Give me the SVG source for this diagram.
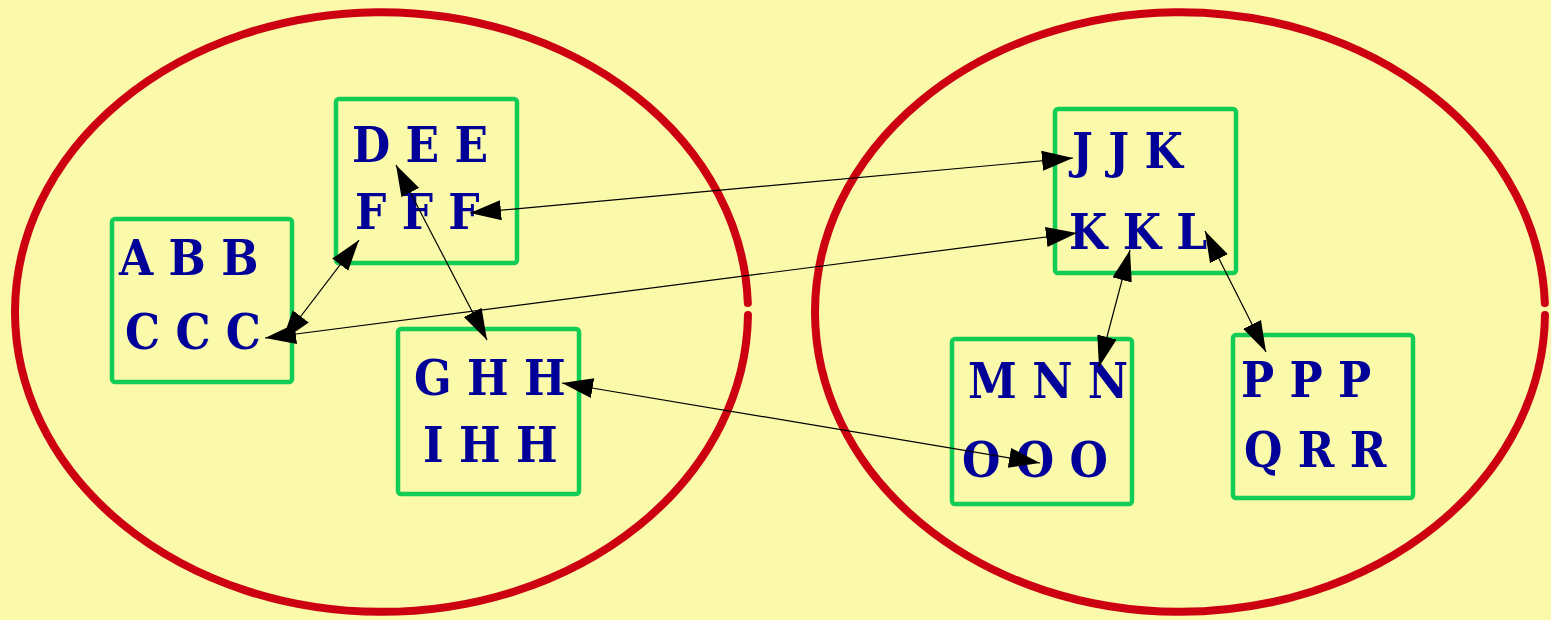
<svg xmlns="http://www.w3.org/2000/svg" width="1551" height="620" viewBox="0 0 1551 620">
  <defs>
    <marker id="arrow" markerUnits="userSpaceOnUse" markerWidth="34" markerHeight="22" refX="31" refY="10" orient="auto-start-reverse">
      <path d="M0,0 L31,10 L0,20 Z" fill="#000"/>
    </marker>
    <style>
      .group { fill: none; stroke: #cc0011; stroke-width: 8; stroke-linecap: round; }
      .box { fill: none; stroke: #11cc55; stroke-width: 4.5; }
      .lbl { font-family: "DejaVu Serif Condensed", "DejaVu Serif", "Liberation Serif", serif; font-stretch: condensed; font-weight: bold; font-size: 49px; fill: #000099; }
      .link { stroke: #000; stroke-width: 1.2; fill: none; marker-start: url(#arrow); marker-end: url(#arrow); }
    </style>
  </defs>

  <rect width="1551" height="620" fill="#fbfaab"/>

  <!-- two enclosing groups, each an ellipse left slightly open on its right side -->
  <g id="group-left">
    <path class="group" d="M747.98,315 A366.5,300 0 0 1 15,312 A366.5,300 0 0 1 747.83,303"/>
  </g>
  <g id="group-right">
    <path class="group" d="M1544.98,315 A365,300 0 0 1 815,312 A365,300 0 0 1 1544.83,303"/>
  </g>

  <g id="node-abb">
    <rect class="box" x="112" y="219" width="180" height="163" rx="3"/>
    <text class="lbl" x="119" y="275">A B B</text>
    <text class="lbl" x="125" y="349">C C C</text>
  </g>
  <g id="node-dee">
    <rect class="box" x="336" y="99" width="181" height="164" rx="3"/>
    <text class="lbl" x="352" y="162">D E E</text>
    <text class="lbl" x="355" y="229">F F F</text>
  </g>
  <g id="node-ghh">
    <rect class="box" x="398" y="329" width="181" height="165" rx="3"/>
    <text class="lbl" x="414" y="395">G H H</text>
    <text class="lbl" x="423" y="462">I H H</text>
  </g>
  <g id="node-jjk">
    <rect class="box" x="1055" y="109" width="181" height="164" rx="3"/>
    <text class="lbl" x="1072" y="168">J J K</text>
    <text class="lbl" x="1069" y="249">K K L</text>
  </g>
  <g id="node-mnn">
    <rect class="box" x="952" y="339" width="180" height="165" rx="3"/>
    <text class="lbl" x="968" y="398">M N N</text>
    <text class="lbl" x="962" y="477">O O O</text>
  </g>
  <g id="node-ppp">
    <rect class="box" x="1233" y="335" width="180" height="163" rx="3"/>
    <text class="lbl" x="1241" y="397">P P P</text>
    <text class="lbl" x="1244" y="467">Q R R</text>
  </g>

  <g id="connectors">
    <line class="link" x1="282" y1="341" x2="359" y2="240"/>
    <line class="link" x1="396" y1="165" x2="487" y2="340"/>
    <line class="link" x1="470" y1="213" x2="1073" y2="158"/>
    <line class="link" x1="265" y1="338" x2="1077" y2="233"/>
    <line class="link" x1="562" y1="383" x2="1040" y2="463"/>
    <line class="link" x1="1130" y1="250" x2="1099" y2="367"/>
    <line class="link" x1="1205" y1="231" x2="1266" y2="352"/>
  </g>
</svg>
